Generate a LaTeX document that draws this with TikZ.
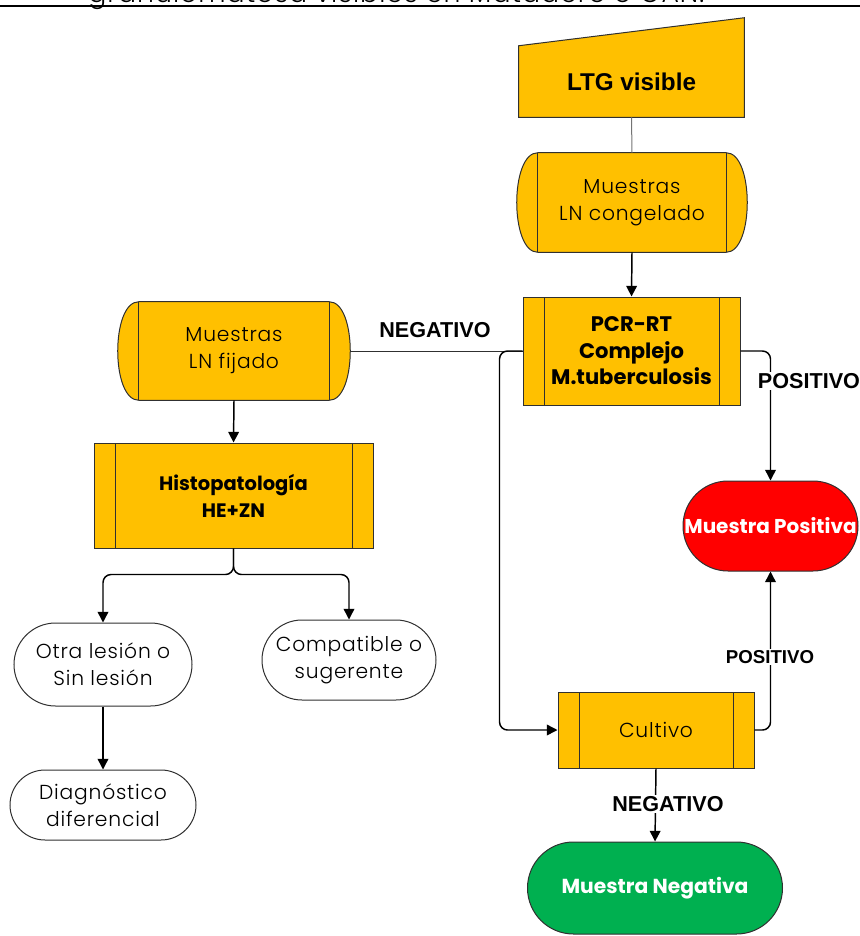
\documentclass[tikz,border=0pt]{standalone}
\usepackage{fontspec}
\setmainfont{Poppins}
\IfFontExistsTF{Poppins Light}{\newfontfamily\cgreg{Poppins Light}[LetterSpace=4]}{\newfontfamily\cgreg{Poppins}[LetterSpace=4]}
\newfontfamily\arialf{Liberation Sans}
\usetikzlibrary{arrows.meta,shapes.misc,calc}
\pgfdeclarelayer{bg}
\pgfsetlayers{bg,main}
\definecolor{ora}{HTML}{FFC000}
\definecolor{redc}{HTML}{FF0000}
\definecolor{grnc}{HTML}{00B050}
\definecolor{edge}{HTML}{303030}
\newcommand\drawstore[1]{%
  \draw[shapeline, fill=ora] ($(#1.north west)+(21,0)$) -- ($(#1.north east)+(-21,0)$)
    .. controls +(28,0) and +(28,0) .. ($(#1.south east)+(-21,0)$)
    -- ($(#1.south west)+(21,0)$)
    .. controls +(-28,0) and +(-28,0) .. ($(#1.north west)+(21,0)$) -- cycle;
  \draw[shapeline] ($(#1.north west)+(21,0)$) -- ($(#1.south west)+(21,0)$)
    ($(#1.north east)+(-21,0)$) -- ($(#1.south east)+(-21,0)$);}
\tikzset{
  boxsize/.style 2 args={minimum width=#1*0.75pt, minimum height=#2*0.75pt},
  shapeline/.style={draw=edge, line width=0.75pt},
  regtext/.style={font=\cgreg\fontsize{15.2}{20.25}\selectfont},
  boldtext/.style={font=\fontsize{14.6}{20.25}\selectfont\bfseries},
  procbox/.style={rectangle, shapeline, fill=ora, inner sep=0pt, align=center,
    path picture={\draw[shapeline]
      ($(path picture bounding box.north west)+(21,0)$) -- ($(path picture bounding box.south west)+(21,0)$)
      ($(path picture bounding box.north east)+(-21,0)$) -- ($(path picture bounding box.south east)+(-21,0)$);}},
  plainbox/.style={rectangle, inner sep=0pt, align=center},
  termbox/.style={rounded rectangle, shapeline, inner sep=0pt, align=center},
  conn/.style={draw=black, line width=1.1pt, -{Triangle[width=8pt,length=8pt]}},
  plainline/.style={draw=edge, line width=0.75pt},
  lbl/.style={font=\arialf\bfseries\fontsize{16.2}{19}\selectfont, inner sep=1pt, fill=white},
  lblsmall/.style={font=\arialf\bfseries\fontsize{14}{17}\selectfont, inner sep=1pt, fill=white},
}
\begin{document}
\begin{tikzpicture}[x=0.75pt,y=-0.75pt]
\useasboundingbox (0,0) rectangle (860,936);
\clip (0,0) rectangle (860,936);
% title fragment and rule
\node[anchor=base west, inner sep=0pt, font=\cgreg\fontsize{20}{24}\selectfont] (title) at (88,2) {granulomatosa visibles en Matadero o GAN.};
\draw[line width=1.6pt] (0,6) -- (860,6);

% nodes
\node[plainbox, boxsize={225}{71}] (ltg) at (631.5,81.5) {\arialf\bfseries\fontsize{18.2}{22}\selectfont LTG visible};
\node[plainbox, boxsize={230}{99}, regtext] (cong) at (632,202.5) {Muestras\\LN congelado};
\node[procbox, boxsize={217}{108}, font=\fontsize{15.8}{19.9}\selectfont\bfseries] (pcr) at (631.5,351) {PCR-RT\\Complejo\\M.tuberculosis};
\node[plainbox, boxsize={232}{98}, regtext] (fij) at (234,351) {Muestras\\LN fijado};
\node[procbox, boxsize={279}{105}, boldtext] (histo) at (233.5,495.5) {Histopatología\\HE+ZN};
\node[termbox, fill=white, boxsize={178}{83}, regtext] (otra) at (103,664.5) {Otra lesión o\\Sin lesión};
\node[termbox, fill=white, boxsize={174}{80}, regtext] (comp) at (349,660) {Compatible o\\sugerente};
\node[termbox, fill=white, boxsize={186}{70}, regtext] (diag) at (103,805) {Diagnóstico\\diferencial};
\node[termbox, fill=redc, text=white, boxsize={175}{90}, font=\fontsize{15}{19}\selectfont\bfseries] (pos) at (770.5,526) {Muestra Positiva};
\node[procbox, boxsize={196}{76}, regtext] (cult) at (656,730) {Cultivo};
\node[termbox, fill=grnc, text=white, boxsize={255}{92}, font=\fontsize{15.2}{19}\selectfont\bfseries] (neg) at (655,888) {Muestra Negativa};

% background shapes
\begin{pgfonlayer}{bg}
  \draw[shapeline, fill=ora] (ltg.south west) -- (ltg.south east) -- ($(ltg.north east)+(0,-28)$) -- (ltg.north west) -- cycle;
  \drawstore{cong}
  \drawstore{fij}
\end{pgfonlayer}

% connectors
\draw[draw=black!55, line width=0.75pt] (ltg.south) -- (cong.north);
\draw[conn] (cong.south) -- (pcr.north);
\draw[plainline] (pcr.west) -- (fij.east);
\draw[conn, rounded corners=6pt] (pcr.west) -- ++(-23,0) |- (cult.west);
\draw[conn, rounded corners=6pt] (pcr.east) -| (pos.north);
\draw[conn, rounded corners=6pt] (cult.east) -| (pos.south);
\draw[conn] (cult.south) -- (neg.north);
\draw[conn] (fij.south) -- (histo.north);
\coordinate (hb) at ($(histo.south)+(0,26)$);
\draw[conn, rounded corners=6pt] (histo.south) -- (hb) -| (otra.north);
\draw[conn, rounded corners=6pt] (histo.south) -- (hb) -| (comp.north);
\draw[conn] (otra.south) -- (diag.north);

% labels
\node[lbl, fill=none] (l1) at (435,330) {NEGATIVO};
\node[lbl] (l2) at (809,381) {POSITIVO};
\node[lblsmall] (l3) at (770,657) {POSITIVO};
\node[lbl] (l4) at (668,804) {NEGATIVO};
\end{tikzpicture}
\end{document}
